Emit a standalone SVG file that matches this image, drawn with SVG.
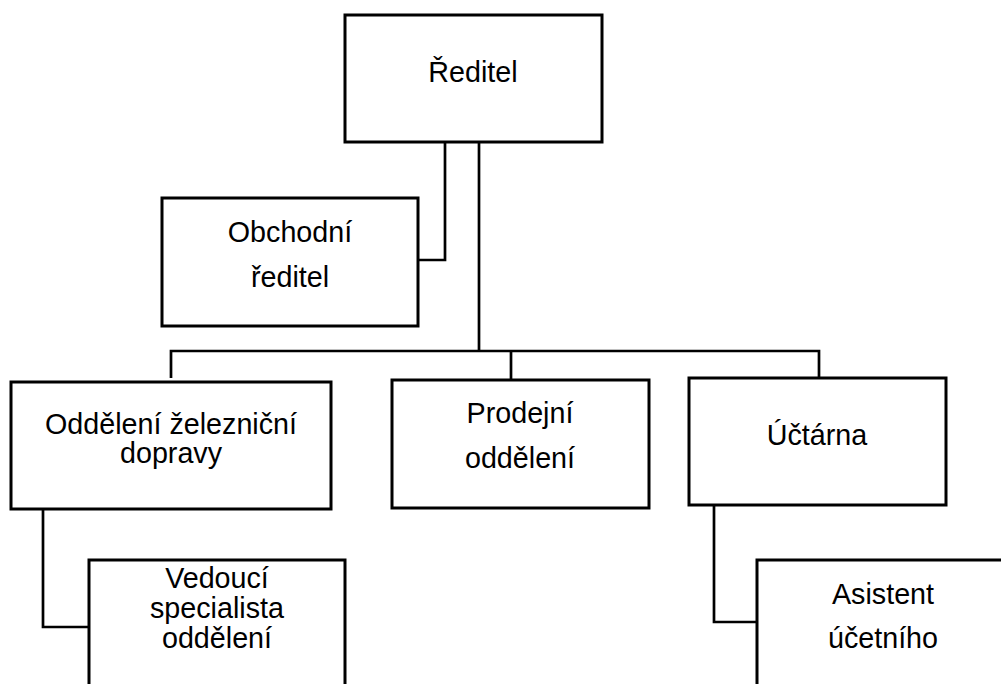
<svg xmlns="http://www.w3.org/2000/svg" width="1001" height="684" viewBox="0 0 1001 684">
<style>
.box{fill:#fff;stroke:#000;stroke-width:3}
.con{fill:none;stroke:#000;stroke-width:2.7}
text{font-family:"Liberation Sans",Arial,sans-serif;font-size:28.7px;fill:#000;text-anchor:middle}
</style>
<rect width="1001" height="684" fill="#fff"/>
<g id="connectors">
<polyline class="con" points="445,142 445,260 418,260"/>
<line class="con" x1="479" y1="142" x2="479" y2="351"/>
<polyline class="con" points="171,378 171,351 819,351 819,378"/>
<line class="con" x1="511" y1="351" x2="511" y2="380"/>
<polyline class="con" points="43,509 43,627 89,627"/>
<polyline class="con" points="714,505 714,622 757,622"/>
</g>
<g id="reditel">
<rect class="box" x="345" y="15" width="257" height="127"/>
<text x="473" y="82">Ředitel</text>
</g>
<g id="obchodni">
<rect class="box" x="162" y="198" width="256" height="128"/>
<text x="290" y="242">Obchodní</text>
<text x="290" y="287">ředitel</text>
</g>
<g id="oddeleni">
<rect class="box" x="11" y="382" width="320" height="127"/>
<text x="171" y="434">Oddělení železniční</text>
<text x="171" y="463">dopravy</text>
</g>
<g id="prodejni">
<rect class="box" x="392" y="380" width="257" height="128"/>
<text x="520" y="423">Prodejní</text>
<text x="520" y="468">oddělení</text>
</g>
<g id="uctarna">
<rect class="box" x="689" y="378" width="257" height="127"/>
<text x="817" y="445">Účtárna</text>
</g>
<g id="vedouci">
<rect class="box" x="89" y="560" width="256" height="140"/>
<text x="217" y="588">Vedoucí</text>
<text x="217" y="618">specialista</text>
<text x="217" y="648">oddělení</text>
</g>
<g id="asistent">
<rect class="box" x="757" y="560" width="260" height="140"/>
<text x="883" y="604">Asistent</text>
<text x="883" y="648">účetního</text>
</g>
</svg>
